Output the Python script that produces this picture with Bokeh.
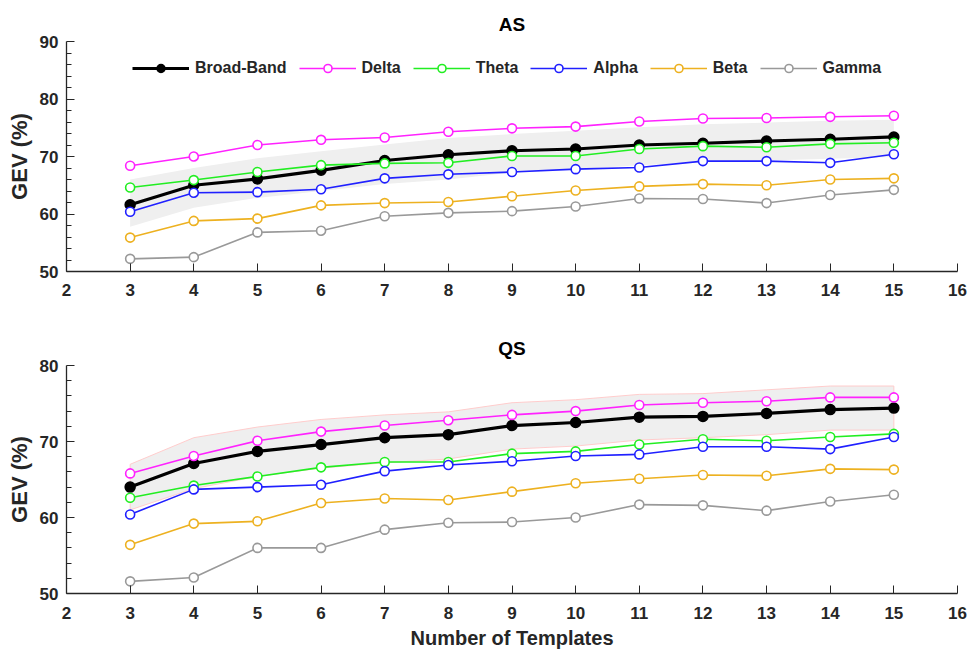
from bokeh.plotting import figure
from bokeh.layouts import column
from bokeh.models import Range1d, FixedTicker, Legend, LegendItem
from bokeh.embed import file_html
from bokeh.resources import INLINE

templates = [3, 4, 5, 6, 7, 8, 9, 10, 11, 12, 13, 14, 15]
series_names = ["Broad-Band", "Delta", "Theta", "Alpha", "Beta", "Gamma"]
series_colors = ["#000000", "#ff22ff", "#22ee22", "#2020ff", "#edb120", "#999999"]
x_ticks = list(range(2, 17))
as_y_ticks = [50, 60, 70, 80, 90]
qs_y_ticks = [50, 60, 70, 80]

as_broad = [61.6, 65.0, 66.1, 67.6, 69.3, 70.3, 71.0, 71.3, 72.0, 72.3, 72.7, 73.0, 73.4]
as_delta = [68.4, 70.0, 72.0, 72.9, 73.3, 74.3, 74.9, 75.2, 76.1, 76.6, 76.7, 76.9, 77.1]
as_theta = [64.6, 65.9, 67.3, 68.5, 68.8, 68.9, 70.1, 70.1, 71.3, 71.8, 71.6, 72.2, 72.4]
as_alpha = [60.4, 63.7, 63.8, 64.3, 66.2, 66.9, 67.3, 67.8, 68.1, 69.2, 69.2, 68.9, 70.4]
as_beta = [55.9, 58.8, 59.2, 61.5, 61.9, 62.1, 63.1, 64.1, 64.8, 65.2, 65.0, 66.0, 66.2]
as_gamma = [52.2, 52.5, 56.8, 57.1, 59.6, 60.2, 60.5, 61.3, 62.7, 62.6, 61.9, 63.3, 64.2]
as_upper = [66.0, 68.0, 69.7, 70.9, 72.1, 73.2, 73.9, 74.5, 75.1, 75.6, 75.9, 76.2, 76.4]
as_lower = [57.8, 61.1, 62.8, 64.0, 65.2, 66.0, 67.2, 67.8, 68.5, 69.0, 69.3, 69.6, 69.9]

qs_broad = [64.0, 67.1, 68.7, 69.6, 70.5, 70.9, 72.1, 72.5, 73.2, 73.3, 73.7, 74.2, 74.4]
qs_delta = [65.8, 68.1, 70.1, 71.3, 72.1, 72.8, 73.5, 74.0, 74.8, 75.1, 75.3, 75.8, 75.8]
qs_theta = [62.6, 64.2, 65.4, 66.6, 67.3, 67.3, 68.4, 68.7, 69.6, 70.3, 70.1, 70.6, 71.0]
qs_alpha = [60.4, 63.7, 64.0, 64.3, 66.1, 66.9, 67.4, 68.1, 68.3, 69.3, 69.3, 69.0, 70.6]
qs_beta = [56.4, 59.2, 59.5, 61.9, 62.5, 62.3, 63.4, 64.5, 65.1, 65.6, 65.5, 66.4, 66.3]
qs_gamma = [51.6, 52.1, 56.0, 56.0, 58.4, 59.3, 59.4, 60.0, 61.7, 61.6, 60.9, 62.1, 63.0]
qs_upper = [67.0, 70.5, 71.9, 72.9, 73.5, 73.9, 75.1, 75.5, 76.2, 76.3, 76.8, 77.3, 77.3]
qs_lower = [61.0, 63.8, 65.4, 66.5, 67.2, 67.7, 69.0, 69.4, 70.2, 70.5, 70.9, 71.5, 71.5]

FONT = "Liberation Sans"
AX = "#262626"


def make_panel(title, series, upper, lower, yr, yticks, height, top, bottom,
               band_edge, show_legend, xlabel, tick_standoff):
    p = figure(width=969, height=height, output_backend="svg", toolbar_location=None,
               x_range=Range1d(2, 16), y_range=Range1d(*yr),
               min_border_left=66, min_border_right=12,
               min_border_top=top, min_border_bottom=bottom)
    p.title.text = title
    p.title.align = "center"
    p.title.text_font = FONT
    p.title.text_font_size = "19px"
    p.title.text_font_style = "bold"
    p.title.text_color = "#000000"
    p.title.standoff = 14
    p.grid.visible = False
    p.outline_line_color = None
    p.background_fill_color = "white"
    p.border_fill_color = "white"

    # band
    bx = templates + templates[::-1]
    by = upper + lower[::-1]
    p.patch(bx, by, fill_color="#efefef", fill_alpha=1.0,
            line_color=band_edge, line_width=1, line_alpha=1.0 if band_edge else 0)

    items = []
    for name, color, vals in zip(series_names, series_colors, series):
        if name == "Broad-Band":
            ln = p.line(templates, vals, line_color=color, line_width=3.2)
            mk = p.scatter(templates, vals, size=10, fill_color=color, line_color=color,
                           line_width=1.5)
        else:
            ln = p.line(templates, vals, line_color=color, line_width=1.6)
            mk = p.scatter(templates, vals, size=9, fill_color="white", line_color=color,
                           line_width=1.6)
        items.append(LegendItem(label=name, renderers=[ln, mk]))

    if show_legend:
        leg = Legend(items=items, orientation="horizontal", location=(66, 193),
                     padding=0, margin=0, spacing=12, glyph_width=57, glyph_height=20,
                     label_standoff=6, label_text_font=FONT, label_text_font_size="16px",
                     label_text_font_style="bold", label_text_color=AX,
                     border_line_alpha=0, background_fill_alpha=0)
        p.add_layout(leg)

    for ax in (p.xaxis[0], p.yaxis[0]):
        ax.axis_line_color = AX
        ax.axis_line_width = 1.3
        ax.major_tick_line_color = AX
        ax.minor_tick_line_color = AX
        ax.major_tick_out = 0
        ax.major_tick_in = 8
        ax.minor_tick_out = 0
        ax.minor_tick_in = 5
        ax.major_label_text_font = FONT
        ax.major_label_text_font_size = "17px"
        ax.major_label_text_font_style = "bold"
        ax.major_label_text_color = AX
        ax.axis_label_text_font = FONT
        ax.axis_label_text_font_style = "bold"
        ax.axis_label_text_color = AX

    p.xaxis[0].ticker = FixedTicker(ticks=x_ticks)
    p.xaxis[0].major_label_standoff = tick_standoff
    minors = [v for v in range(int(yr[0]), int(yr[1]) + 1, 2) if v not in yticks]
    p.yaxis[0].ticker = FixedTicker(ticks=yticks, minor_ticks=minors)
    p.yaxis[0].major_label_standoff = 8
    p.yaxis[0].axis_label = "GEV (%)"
    p.yaxis[0].axis_label_text_font_size = "22px"
    p.yaxis[0].axis_label_standoff = 5
    if xlabel:
        p.xaxis[0].axis_label = xlabel
        p.xaxis[0].axis_label_text_font_size = "20px"
        p.xaxis[0].axis_label_standoff = 5
    return p


p1 = make_panel("AS", [as_broad, as_delta, as_theta, as_alpha, as_beta, as_gamma],
                as_upper, as_lower, (50, 90), as_y_ticks, 318, 41, 47,
                None, True, None, 12)
p2 = make_panel("QS", [qs_broad, qs_delta, qs_theta, qs_alpha, qs_beta, qs_gamma],
                qs_upper, qs_lower, (50, 80), qs_y_ticks, 333, 47, 57,
                "#ffcccc", False, "Number of Templates", 13)

layout = column(p1, p2, spacing=0)
open("out.html", "w").write(file_html(layout, INLINE))
